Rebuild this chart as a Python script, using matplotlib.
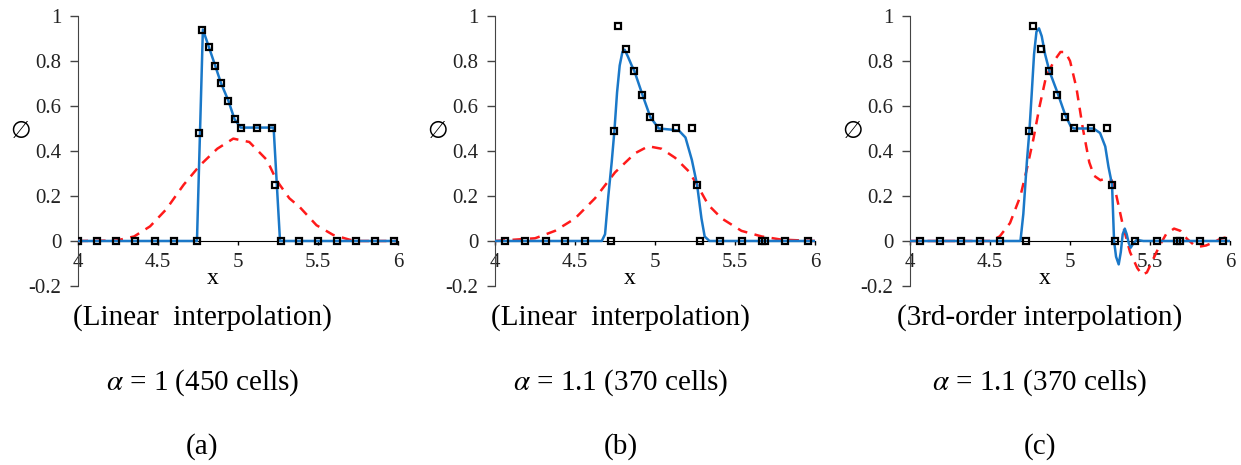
import numpy as np
import matplotlib
matplotlib.use('Agg')
import matplotlib.pyplot as plt

plt.rcParams['font.family'] = ['Liberation Serif', 'DejaVu Serif', 'DejaVu Sans']
plt.rcParams['mathtext.fontset'] = 'stix'

# markers (cell values)
x_a_pts = [4.0, 4.121, 4.239, 4.358, 4.479, 4.597, 4.743, 4.758, 4.772, 4.818, 4.857, 4.893,
           4.939, 4.978, 5.016, 5.116, 5.215, 5.232, 5.267, 5.378, 5.498, 5.617, 5.736, 5.856, 5.975]
y_a_pts = [0, 0, 0, 0, 0, 0, 0, 0.48, 0.939, 0.861, 0.779, 0.702,
           0.624, 0.541, 0.504, 0.504, 0.504, 0.25, 0, 0, 0, 0, 0, 0, 0]

x_bc_pts = [4.0625, 4.1875, 4.317, 4.44, 4.565, 4.723, 4.746, 4.769, 4.821, 4.871, 4.921, 4.971,
            5.023, 5.131, 5.229, 5.2625, 5.281, 5.406, 5.542, 5.671, 5.6875, 5.8125, 5.954]
y_bc_pts = [0, 0, 0, 0, 0, 0, 0.49, 0.955, 0.855, 0.755, 0.65, 0.55,
            0.50, 0.50, 0.50, 0.25, 0, 0, 0, 0, 0, 0, 0]

# blue solid curves
x_a_blue = [4.0, 4.743, 4.78, 4.818, 4.857, 4.893, 4.939, 4.978, 5.016, 5.116, 5.222, 5.262, 6.0]
y_a_blue = [0, 0, 0.94, 0.861, 0.779, 0.702, 0.624, 0.541, 0.504, 0.504, 0.504, 0, 0]

x_b_blue = [4.0, 4.667, 4.6875, 4.708, 4.729, 4.746, 4.7625, 4.779, 4.796, 4.81, 4.83, 4.854,
            4.871, 4.921, 4.971, 5.023, 5.10, 5.15, 5.19, 5.23, 5.2625, 5.29, 5.31, 5.34, 6.0]
y_b_blue = [0, 0, 0.03, 0.2, 0.35, 0.49, 0.66, 0.78, 0.84, 0.85, 0.82, 0.78,
            0.755, 0.65, 0.55, 0.50, 0.495, 0.49, 0.46, 0.36, 0.25, 0.1, 0.02, 0, 0]

x_c_blue = [4.0, 4.69, 4.708, 4.73, 4.746, 4.76, 4.775, 4.79, 4.806, 4.823, 4.844, 4.871, 4.921,
            4.97, 5.004, 5.023, 5.146, 5.1875, 5.22, 5.24, 5.2625, 5.275, 5.2875, 5.304, 5.317,
            5.329, 5.342, 5.354, 5.367, 5.379, 5.396, 5.417, 5.458, 6.0]
y_c_blue = [0, 0, 0.12, 0.35, 0.49, 0.65, 0.83, 0.93, 0.945, 0.91, 0.83, 0.755, 0.66,
            0.56, 0.51, 0.50, 0.50, 0.48, 0.42, 0.33, 0.25, 0.0, -0.07, -0.104, -0.05,
            0.03, 0.055, 0.03, -0.01, -0.03, -0.01, 0.005, 0.0, 0.0]

# red dashed curves
x_a_red = [4.0, 4.24, 4.35, 4.45, 4.55, 4.66, 4.76, 4.87, 4.97, 5.07, 5.18, 5.24, 5.32,
           5.386, 5.49, 5.594, 5.70, 5.76, 6.0]
y_a_red = [0, 0.002, 0.02, 0.065, 0.14, 0.25, 0.335, 0.41, 0.455, 0.44, 0.36, 0.27, 0.19,
           0.15, 0.07, 0.027, 0.005, 0, 0]

x_b_red = [4.0, 4.25, 4.375, 4.5, 4.625, 4.75, 4.875, 4.958, 5.04, 5.125, 5.21, 5.2625,
           5.333, 5.417, 5.54, 5.667, 5.79, 6.0]
y_b_red = [0, 0.012, 0.045, 0.10, 0.19, 0.305, 0.39, 0.421, 0.41, 0.37, 0.31, 0.25,
           0.16, 0.10, 0.045, 0.02, 0.006, 0]

x_c_red = [4.0, 4.5, 4.56, 4.625, 4.69, 4.73, 4.77, 4.81, 4.85, 4.9, 4.94, 4.97, 5.0, 5.04,
           5.08, 5.12, 5.15, 5.19, 5.23, 5.26, 5.29, 5.33, 5.375, 5.42, 5.45, 5.48, 5.52,
           5.56, 5.6, 5.65, 5.69, 5.73, 5.77, 5.81, 5.85, 5.9, 5.94, 6.0]
y_c_red = [0, 0, 0.02, 0.08, 0.2, 0.32, 0.45, 0.6, 0.73, 0.80, 0.84, 0.84, 0.80, 0.68,
           0.5, 0.35, 0.29, 0.27, 0.28, 0.27, 0.2, 0.07, -0.05, -0.12, -0.15, -0.14, -0.08,
           -0.02, 0.03, 0.055, 0.045, 0.01, -0.015, -0.025, -0.02, -0.005, 0.01, 0.02]

yticks = [-0.2, 0, 0.2, 0.4, 0.6, 0.8, 1]
ytick_labels = ['-0.2', '0', '0.2', '0.4', '0.6', '0.8', '1']
xticks = [4, 4.5, 5, 5.5, 6]
xtick_labels = ['4', '4.5', '5', '5.5', '6']

captions = ['(Linear  interpolation)', '(Linear  interpolation)', '(3rd-order interpolation)']
alphas = [r'$\alpha$ = 1 (450 cells)', r'$\alpha$ = 1.1 (370 cells)', r'$\alpha$ = 1.1 (370 cells)']
letters = ['(a)', '(b)', '(c)']

panels = [
    (x_a_pts, y_a_pts, x_a_blue, y_a_blue, x_a_red, y_a_red),
    (x_bc_pts, y_bc_pts, x_b_blue, y_b_blue, x_b_red, y_b_red),
    (x_bc_pts, y_bc_pts, x_c_blue, y_c_blue, x_c_red, y_c_red),
]
lefts = [0.0629, 0.3989, 0.7333]
centers = [0.163, 0.500, 0.838]

fig = plt.figure(figsize=(12.41, 4.65), dpi=100)

for i, (xp, yp, xb, yb, xr, yr) in enumerate(panels):
    ax = fig.add_axes([lefts[i], 0.385, 0.2579, 0.5806])
    ax.set_xlim(4, 6)
    ax.set_ylim(-0.2, 1)

    ax.plot(xr, yr, color='#ff1a1a', ls=(0, (4, 3)), lw=1.8, zorder=3)
    ax.plot(xb, yb, color='#1a78c8', lw=1.8, zorder=4)
    ax.plot(xp, yp, ls='none', marker='s', ms=5, mfc='none', mec='black', mew=1.6, zorder=5)

    for s in ['top', 'right']:
        ax.spines[s].set_visible(False)
    ax.spines['left'].set_color('#444444')
    ax.spines['bottom'].set_position(('data', 0))
    ax.spines['bottom'].set_color('black')
    ax.spines['bottom'].set_zorder(2)

    ax.set_yticks(yticks)
    ax.set_yticklabels(ytick_labels, fontsize=15, color='#222222')
    ax.tick_params(axis='y', direction='out', length=6, width=1, color='#444444', pad=6)
    ax.set_xticks(xticks)
    ax.set_xticklabels(xtick_labels, fontsize=15, color='#222222')
    ax.tick_params(axis='x', direction='out', length=3, width=1, pad=6)

    ax.text(3.64, 0.49, '∅', fontsize=17, ha='center', va='center', clip_on=False,
            family=['DejaVu Sans', 'Liberation Serif'])
    ax.text(4.84, -0.165, 'x', fontsize=17, ha='center', va='center', clip_on=False)

    fig.text(centers[i], 0.318, captions[i], fontsize=21, ha='center', va='center')
    fig.text(centers[i], 0.178, alphas[i], fontsize=21, ha='center', va='center')
    fig.text(centers[i], 0.040, letters[i], fontsize=21, ha='center', va='center')

fig.savefig('out.png', dpi=100)
